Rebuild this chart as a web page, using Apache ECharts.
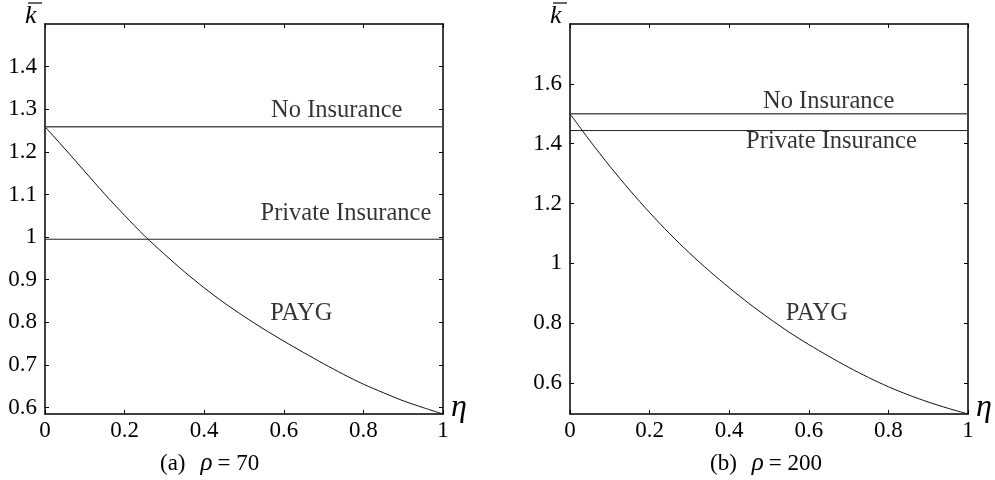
<!DOCTYPE html>
<html>
<head>
<meta charset="utf-8">
<style>
  html, body { margin: 0; padding: 0; background: #fff; }
  #chart { width: 995px; height: 480px; }
</style>
<script src="https://cdn.jsdelivr.net/npm/echarts@6/dist/echarts.min.js"></script>
</head>
<body>
<div id="chart"></div>
<script>
// Dependency ratio eta on the horizontal axis
const eta = [0, 0.05, 0.1, 0.15, 0.2, 0.25, 0.3, 0.35, 0.4, 0.45, 0.5,
             0.55, 0.6, 0.65, 0.7, 0.75, 0.8, 0.85, 0.9, 0.95, 1];

// Panel (a): rho = 70
const paygA = [1.259, 1.207, 1.154, 1.101, 1.051, 1.003, 0.960, 0.919, 0.881, 0.846, 0.814,
               0.784, 0.756, 0.729, 0.703, 0.678, 0.655, 0.635, 0.616, 0.600, 0.585];
const noInsuranceA = 1.259;
const privateInsuranceA = 0.995;

// Panel (b): rho = 200
const paygB = [1.500, 1.410, 1.325, 1.245, 1.170, 1.100, 1.035, 0.975, 0.919, 0.866, 0.817,
               0.771, 0.729, 0.690, 0.653, 0.619, 0.588, 0.561, 0.537, 0.516, 0.497];
const noInsuranceB = 1.5;
const privateInsuranceB = 1.444;

// Tick labels
const xTicks = [0, 0.2, 0.4, 0.6, 0.8, 1];
const yTicksA = [0.6, 0.7, 0.8, 0.9, 1.0, 1.1, 1.2, 1.3, 1.4];
const yTicksB = [0.6, 0.8, 1.0, 1.2, 1.4, 1.6];
const yRangeA = [0.585, 1.5];
const yRangeB = [0.497, 1.8];

// Curve annotations [label, eta, k]
const notesA = [['No Insurance', 0.733, 1.297], ['Private Insurance', 0.756, 1.055], ['PAYG', 0.644, 0.820]];
const notesB = [['No Insurance', 0.650, 1.541], ['Private Insurance', 0.657, 1.408], ['PAYG', 0.620, 0.831]];

const captions = [['(a)', '70'], ['(b)', '200']];

const SERIF = '"Liberation Serif", "Times New Roman", serif';
const fmt = v => String(+(+v).toFixed(2));

const grids = [
  { left: 45, top: 24, width: 398, height: 390 },
  { left: 570, top: 24, width: 398, height: 390 }
];

function xAxes(gi) {
  const base = {
    type: 'value', gridIndex: gi, min: 0, max: 1, interval: 0.2,
    splitLine: { show: false },
    axisLine: { show: true, onZero: false, lineStyle: { color: '#000', width: 1.5 } },
    axisTick: { show: true, inside: true, length: 4, lineStyle: { color: '#000', width: 1 } }
  };
  return [
    Object.assign({}, base, {
      position: 'bottom',
      axisLabel: { show: true, color: '#000', fontFamily: SERIF, fontSize: 23, margin: 5, formatter: fmt, customValues: xTicks }
    }),
    Object.assign({}, base, { position: 'top', axisLabel: { show: false } })
  ];
}

function yAxes(gi, range, ticks) {
  const base = {
    type: 'value', gridIndex: gi, min: range[0], max: range[1],
    splitLine: { show: false },
    axisLine: { show: true, onZero: false, lineStyle: { color: '#000', width: 1.5 } },
    axisTick: { show: true, inside: true, length: 4, customValues: ticks, lineStyle: { color: '#000', width: 1 } }
  };
  return [
    Object.assign({}, base, {
      position: 'left',
      axisLabel: { show: true, color: '#000', fontFamily: SERIF, fontSize: 23, margin: 8, formatter: fmt, customValues: ticks }
    }),
    Object.assign({}, base, { position: 'right', axisLabel: { show: false } })
  ];
}

function hLine(name, v, xi, yi, color, width) {
  return {
    name, type: 'line', xAxisIndex: xi, yAxisIndex: yi, symbol: 'none', silent: true,
    data: [[0, v], [1, v]], lineStyle: { color, width }
  };
}

function curve(name, ys, xi, yi) {
  return {
    name, type: 'line', xAxisIndex: xi, yAxisIndex: yi, symbol: 'none', silent: true, smooth: 0.3,
    data: eta.map((x, i) => [x, ys[i]]), lineStyle: { color: '#111', width: 1 }
  };
}

function notes(list, xi, yi) {
  return {
    type: 'scatter', xAxisIndex: xi, yAxisIndex: yi, silent: true, symbolSize: 1,
    itemStyle: { color: 'rgba(0,0,0,0)' },
    data: list.map(n => ({ value: [n[1], n[2]], name: n[0] })),
    label: {
      show: true, position: 'inside', formatter: p => p.name,
      color: '#000', fontFamily: SERIF, fontSize: 24.5
    }
  };
}

const chart = echarts.init(document.getElementById('chart'), null, { renderer: 'canvas' });

const option = {
  animation: false,
  backgroundColor: '#fff',
  grid: grids,
  xAxis: [...xAxes(0), ...xAxes(1)],
  yAxis: [...yAxes(0, yRangeA, yTicksA), ...yAxes(1, yRangeB, yTicksB)],
  title: captions.map((c, i) => ({
    left: i === 0 ? 155 : 705, top: 446,
    text: '{n|' + c[0] + '}   {g|ρ} {n|= ' + c[1] + '}',
    textStyle: {
      fontWeight: 'normal',
      rich: {
        n: { fontFamily: SERIF, fontSize: 23, fontWeight: 'normal', color: '#000' },
        g: { fontFamily: SERIF, fontSize: 25, fontStyle: 'italic', fontWeight: 'normal', color: '#000' }
      }
    }
  })),
  series: [
    hLine('No Insurance', noInsuranceA, 0, 0, '#555', 1.5),
    hLine('Private Insurance', privateInsuranceA, 0, 0, '#222', 1),
    curve('PAYG', paygA, 0, 0),
    notes(notesA, 0, 0),
    hLine('No Insurance', noInsuranceB, 2, 2, '#555', 1.5),
    hLine('Private Insurance', privateInsuranceB, 2, 2, '#222', 1),
    curve('PAYG', paygB, 2, 2),
    notes(notesB, 2, 2)
  ],
  graphic: [
    // k-bar axis symbols
    { type: 'text', left: 25, top: 3, style: { text: 'k', font: 'italic 26px ' + SERIF, fill: '#000' } },
    { type: 'line', shape: { x1: 28, y1: 3, x2: 42, y2: 3 }, style: { stroke: '#000', lineWidth: 1.2 } },
    { type: 'text', left: 550, top: 3, style: { text: 'k', font: 'italic 26px ' + SERIF, fill: '#000' } },
    { type: 'line', shape: { x1: 553, y1: 3, x2: 567, y2: 3 }, style: { stroke: '#000', lineWidth: 1.2 } },
    // eta axis symbols
    { type: 'text', left: 451, top: 392, style: { text: 'η', font: 'italic 32px ' + SERIF, fill: '#000' } },
    { type: 'text', left: 976, top: 392, style: { text: 'η', font: 'italic 32px ' + SERIF, fill: '#000' } }
  ]
};

chart.setOption(option);
</script>
</body>
</html>
